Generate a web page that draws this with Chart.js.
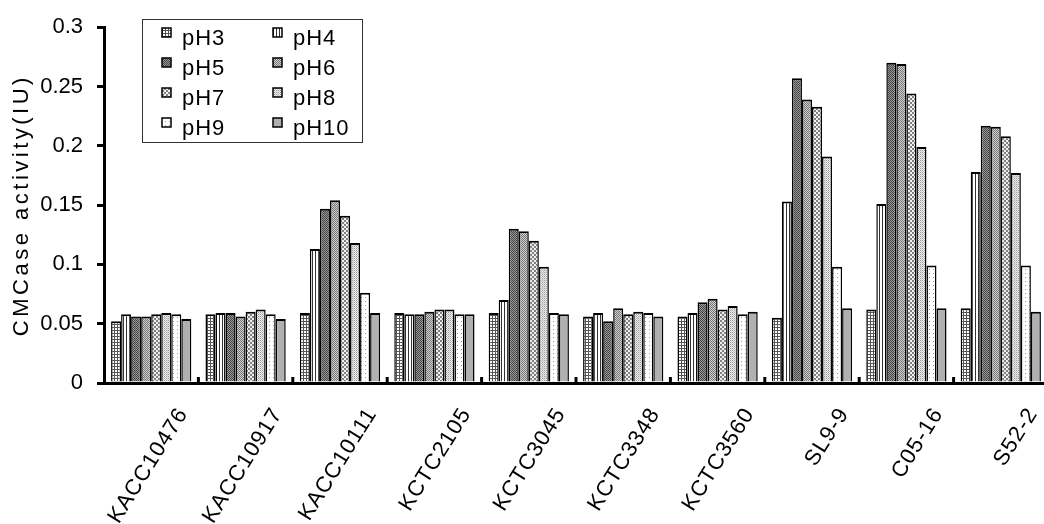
<!DOCTYPE html>
<html>
<head>
<meta charset="utf-8">
<script src="https://cdn.jsdelivr.net/npm/chart.js@4"></script>
<style>
  html, body { margin: 0; padding: 0; background: #fff; overflow: hidden; }
  #wrap { width: 1050px; height: 524px; }
</style>
</head>
<body>
<div id="wrap"><canvas id="chart" width="1050" height="524"></canvas></div>
<script>
// strains on the x axis
const strains = ['KACC10476', 'KACC10917', 'KACC10111', 'KCTC2105', 'KCTC3045',
  'KCTC3348', 'KCTC3560', 'SL9-9', 'C05-16', 'S52-2'];

// CMCase activity (IU) per strain, one array per pH
const ph3  = [0.052, 0.058, 0.059, 0.059, 0.059, 0.056, 0.056, 0.055, 0.062, 0.063];
const ph4  = [0.058, 0.059, 0.113, 0.058, 0.070, 0.059, 0.059, 0.153, 0.151, 0.178];
const ph5  = [0.056, 0.059, 0.147, 0.058, 0.130, 0.052, 0.068, 0.257, 0.270, 0.217];
const ph6  = [0.056, 0.056, 0.154, 0.060, 0.128, 0.063, 0.071, 0.239, 0.269, 0.216];
const ph7  = [0.058, 0.060, 0.141, 0.062, 0.120, 0.058, 0.062, 0.233, 0.244, 0.208];
const ph8  = [0.059, 0.062, 0.118, 0.062, 0.098, 0.060, 0.065, 0.191, 0.199, 0.177];
const ph9  = [0.058, 0.058, 0.076, 0.058, 0.059, 0.059, 0.058, 0.098, 0.099, 0.099];
const ph10 = [0.054, 0.054, 0.059, 0.058, 0.058, 0.056, 0.060, 0.063, 0.063, 0.060];

const seriesNames = ['pH3', 'pH4', 'pH5', 'pH6', 'pH7', 'pH8', 'pH9', 'pH10'];
const seriesValues = [ph3, ph4, ph5, ph6, ph7, ph8, ph9, ph10];

const yTickLabels = ['0', '0.05', '0.1', '0.15', '0.2', '0.25', '0.3'];

const FONT = '"Liberation Sans", Arial, sans-serif';

// small tiled fills for the bars
function makePattern(w, h, paint) {
  const c = document.createElement('canvas');
  c.width = w; c.height = h;
  const g = c.getContext('2d');
  paint(g);
  return g.createPattern(c, 'repeat');
}
function px(g, x, y, col) { g.fillStyle = col; g.fillRect(x, y, 1, 1); }

const fills = [
  // pH3: fine grid
  makePattern(3, 3, g => {
    g.fillStyle = '#fff'; g.fillRect(0, 0, 3, 3);
    g.fillStyle = '#555'; g.fillRect(0, 0, 3, 1); g.fillRect(0, 0, 1, 3);
  }),
  // pH4: vertical lines
  makePattern(3, 1, g => {
    g.fillStyle = '#fff'; g.fillRect(0, 0, 3, 1);
    px(g, 0, 0, '#333');
  }),
  // pH5: dark checker
  makePattern(2, 2, g => {
    g.fillStyle = '#999'; g.fillRect(0, 0, 2, 2);
    px(g, 0, 0, '#444'); px(g, 1, 1, '#444');
  }),
  // pH6: medium checker
  makePattern(2, 2, g => {
    g.fillStyle = '#cfcfcf'; g.fillRect(0, 0, 2, 2);
    px(g, 0, 0, '#777'); px(g, 1, 1, '#777');
  }),
  // pH7: coarse checker
  makePattern(4, 4, g => {
    g.fillStyle = '#f0f0f0'; g.fillRect(0, 0, 4, 4);
    g.fillStyle = '#808080'; g.fillRect(0, 0, 2, 2); g.fillRect(2, 2, 2, 2);
  }),
  // pH8: light dots
  makePattern(2, 2, g => {
    g.fillStyle = '#eeeeee'; g.fillRect(0, 0, 2, 2);
    px(g, 0, 0, '#999'); px(g, 1, 1, '#c4c4c4');
  }),
  // pH9: sparse dots
  makePattern(4, 4, g => {
    g.fillStyle = '#fff'; g.fillRect(0, 0, 4, 4);
    px(g, 1, 1, '#999');
  }),
  // pH10: plain grey
  '#b0b0b0'
];

// wrap a scale draw method so its text gets extra tracking
function tracked(scale, method, spacing) {
  if (scale['_tracked_' + method]) return;
  const orig = scale[method];
  scale[method] = function (...args) {
    const ctx = this.ctx;
    ctx.save();
    ctx.letterSpacing = spacing;
    orig.apply(this, args);
    ctx.restore();
  };
  scale['_tracked_' + method] = true;
}
const tracking = {
  id: 'tracking',
  afterLayout(chart) {
    tracked(chart.scales.x, 'drawLabels', '1px');
    tracked(chart.scales.y, 'drawTitle', '3.5px');
  }
};

// legend box drawn inside the plot, two columns
const boxLegend = {
  id: 'boxLegend',
  afterDraw(chart) {
    const ctx = chart.ctx;
    ctx.save();
    ctx.fillStyle = '#fff';
    ctx.fillRect(142, 19, 221, 124);
    ctx.strokeStyle = '#333';
    ctx.lineWidth = 1;
    ctx.strokeRect(142.5, 19.5, 220, 123);
    ctx.font = '22px ' + FONT;
    ctx.letterSpacing = '1px';
    ctx.textBaseline = 'alphabetic';
    chart.data.datasets.forEach((ds, i) => {
      const col = i % 2, row = Math.floor(i / 2);
      const sx = col === 0 ? 162 : 273;
      const sy = 28 + row * 30;
      ctx.fillStyle = ds.backgroundColor;
      ctx.fillRect(sx, sy, 9, 9);
      ctx.strokeStyle = '#000';
      ctx.lineWidth = 1.5;
      ctx.strokeRect(sx, sy, 9, 9);
      ctx.fillStyle = '#000';
      ctx.fillText(ds.label, sx + 20, sy + 16.5);
    });
    ctx.restore();
  }
};

// short inward stubs on the x axis between strains
const groupTicks = {
  id: 'groupTicks',
  afterDatasetsDraw(chart) {
    const x = chart.scales.x;
    const bottom = chart.chartArea.bottom;
    const step = x.getPixelForValue(1) - x.getPixelForValue(0);
    const ctx = chart.ctx;
    ctx.save();
    ctx.strokeStyle = '#000';
    ctx.lineWidth = 3;
    for (let i = 1; i <= strains.length; i++) {
      const pos = x.getPixelForValue(i - 1) + step / 2;
      ctx.beginPath();
      ctx.moveTo(pos, bottom - 6);
      ctx.lineTo(pos, bottom);
      ctx.stroke();
    }
    ctx.restore();
  }
};

new Chart(document.getElementById('chart'), {
  type: 'bar',
  data: {
    labels: strains,
    datasets: seriesNames.map((name, i) => ({
      label: name,
      data: seriesValues[i],
      backgroundColor: fills[i],
      borderColor: '#000',
      borderWidth: { top: 2, left: 1.5, right: 1.5, bottom: 0 },
      borderSkipped: false,
      barPercentage: 1.0,
      categoryPercentage: 0.85
    }))
  },
  options: {
    responsive: false,
    animation: false,
    devicePixelRatio: 1,
    layout: { padding: { top: 17, right: 2, left: 0, bottom: 0 } },
    plugins: {
      legend: { display: false },
      tooltip: { enabled: false }
    },
    scales: {
      x: {
        offset: true,
        grid: { display: false },
        border: { display: true, color: '#000', width: 3 },
        ticks: {
          color: '#000',
          font: { family: FONT, size: 22 },
          minRotation: 58,
          maxRotation: 58,
          padding: 12,
          labelOffset: 32,
          autoSkip: false
        },
        afterFit(scale) { scale.height = 141; }
      },
      y: {
        min: 0,
        max: 0.3,
        ticks: {
          stepSize: 0.05,
          color: '#000',
          font: { family: FONT, size: 22 },
          padding: 14,
          callback: (v, i) => yTickLabels[i]
        },
        grid: {
          drawOnChartArea: false,
          drawTicks: true,
          tickLength: 7,
          color: '#000',
          lineWidth: 3
        },
        border: { display: true, color: '#000', width: 3 },
        title: {
          display: true,
          text: 'CMCase activity(IU)',
          color: '#000',
          font: { family: FONT, size: 22 },
          padding: { top: 9, bottom: 0 }
        },
        afterFit(scale) { scale.width = 104; }
      }
    }
  },
  plugins: [tracking, groupTicks, boxLegend]
});
</script>
</body>
</html>
